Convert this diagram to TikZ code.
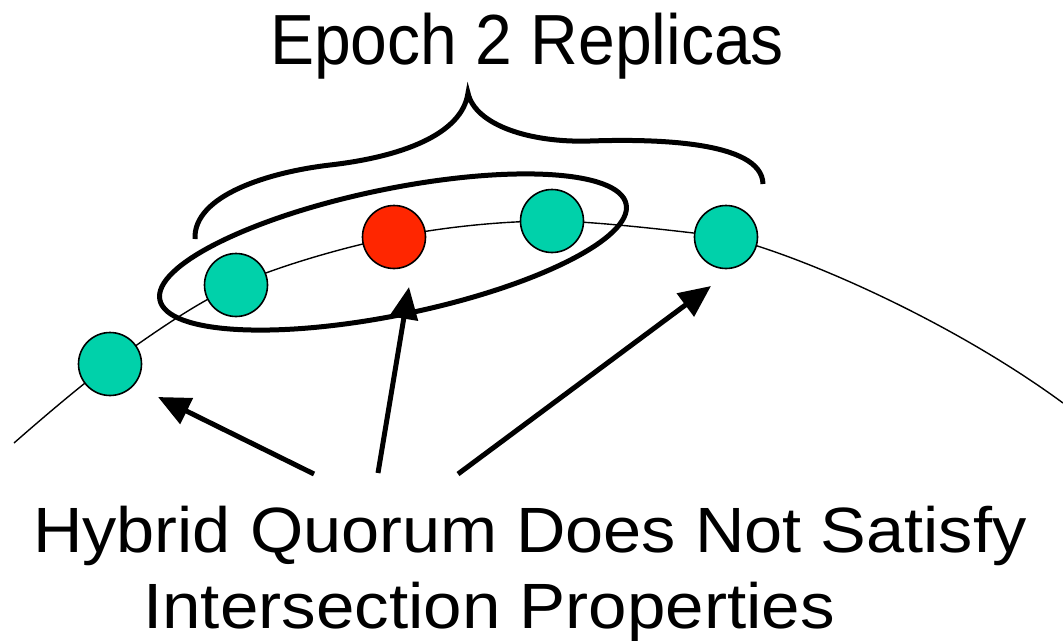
\documentclass[tikz,border=0pt]{standalone}
\usepackage{fontspec}
\setmainfont{Liberation Sans}
\usetikzlibrary{arrows.meta}
\definecolor{replicateal}{RGB}{0,209,170}
\definecolor{replicared}{RGB}{255,38,0}
\tikzset{
  replica/.style={circle, draw=black, line width=1.6pt, minimum size=63pt, inner sep=0pt},
  ring/.style={line width=1.4pt},
  thickline/.style={line width=5pt},
  pointer/.style={line width=5pt, -{Triangle[length=32pt,width=28pt]}},
}
\begin{document}
\begin{tikzpicture}[x=1pt,y=-1pt]
  \useasboundingbox (0,0) rectangle (1063,640);

  % positions of the replicas on the ring
  \coordinate (c1) at (110,364);
  \coordinate (c2) at (236,285);
  \coordinate (c3) at (394,237);
  \coordinate (c4) at (552,221);
  \coordinate (c5) at (726,237);
  \coordinate (ringstart) at (14,443);
  \coordinate (ringend) at (1063,403);

  % the ring of replicas
  \draw[ring] plot[smooth, tension=0.55] coordinates
    {(ringstart) (c1) (c2) (c3) (c4) (c5)};
  \draw[ring] (c5) .. controls (800,255) and (950,320) .. (ringend);

  % replicas
  \node[replica, fill=replicateal] (r1) at (c1) {};
  \node[replica, fill=replicateal] (r2) at (c2) {};
  \node[replica, fill=replicared]  (r3) at (c3) {};
  \node[replica, fill=replicateal] (r4) at (c4) {};
  \node[replica, fill=replicateal] (r5) at (c5) {};

  % hybrid quorum
  \draw[thickline, shift={(393,252)}, rotate=11.6] (0,0) ellipse [x radius=238, y radius=63];

  % brace over the epoch 2 replicas
  \draw[thickline] (195,239) .. controls (193,195) and (270,172) .. (330,165)
                 .. controls (400,157) and (462,135) .. (468,93)
                 .. controls (475,125) and (530,143) .. (590,141)
                 .. controls (650,139) and (762,140) .. (763,184);

  % labels
  \node[anchor=base west, inner sep=0pt] (title) at (270,64)
    {\scalebox{0.93}[1]{\fontsize{71pt}{71pt}\selectfont Epoch 2 Replicas}};
  \node[anchor=base west, inner sep=0pt] (line1) at (33,552)
    {\scalebox{1.07}[1]{\fontsize{64pt}{64pt}\selectfont Hybrid Quorum Does Not Satisfy}};
  \node[anchor=base west, inner sep=0pt] (line2) at (143,628)
    {\scalebox{1.08}[1]{\fontsize{64pt}{64pt}\selectfont Intersection Properties}};

  % pointers from the caption to the replicas
  \coordinate (p1s) at (314,474);
  \coordinate (p1e) at (158,397);
  \coordinate (p2s) at (378,473);
  \coordinate (p2e) at (409,287);
  \coordinate (p3s) at (458,474);
  \coordinate (p3e) at (711,286);
  \draw[pointer] (p1s) -- (p1e);
  \draw[pointer] (p2s) -- (p2e);
  \draw[pointer] (p3s) -- (p3e);
\end{tikzpicture}
\end{document}
